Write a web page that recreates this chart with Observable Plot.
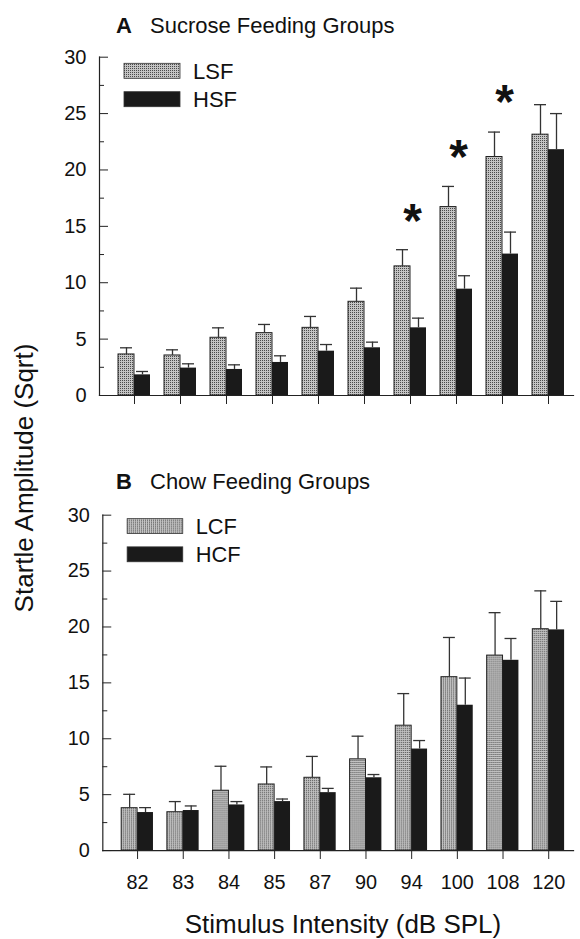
<!DOCTYPE html>
<html>
<head>
<meta charset="utf-8">
<script src="https://cdn.jsdelivr.net/npm/d3@7"></script>
<script src="https://cdn.jsdelivr.net/npm/@observablehq/plot@0.6"></script>
<style>
  body { margin: 0; background: #fff; }
  #wrap { position: relative; width: 580px; height: 939px; overflow: hidden; background: #fff;
          font-family: "Liberation Sans", Arial, Helvetica, sans-serif; color: #111; }
  .abs { position: absolute; white-space: nowrap; line-height: 1; }
  .ptitle { font-size: 22px; }
  .ptitle b { display: inline-block; width: 34px; }
  #ylab { font-size: 26px; transform: translate(-50%, -50%) rotate(-90deg); }
  #xlab { font-size: 26px; transform: translateX(-50%); }
  .panel { position: absolute; }
</style>
</head>
<body>
<div id="wrap">
  <div class="abs ptitle" style="left:116px; top:15px;"><b>A</b>Sucrose Feeding Groups</div>
  <div class="abs ptitle" style="left:116px; top:471px;"><b>B</b>Chow Feeding Groups</div>
  <div class="abs" id="ylab" style="left:24px; top:478px;">Startle Amplitude (Sqrt)</div>
  <div class="abs" id="xlab" style="left:343px; top:911px;">Stimulus Intensity (dB SPL)</div>
  <div class="panel" id="pA" style="left:0px; top:0px;"></div>
  <div class="panel" id="pB" style="left:4px; top:470px;"></div>
</div>
<script>
// ---- data ----
const categories = ["82", "83", "84", "85", "87", "90", "94", "100", "108", "120"];
const yTicks = [0, 5, 10, 15, 20, 25, 30];
const yMinorTicks = [2.5, 7.5, 12.5, 17.5, 22.5, 27.5];

// Panel A: sucrose feeding groups (mean, SEM)
const lsfMean = [3.64, 3.55, 5.12, 5.53, 6.00, 8.31, 11.45, 16.71, 21.15, 23.13];
const lsfSem  = [0.59, 0.50, 0.88, 0.77, 1.01, 1.21, 1.48, 1.83, 2.21, 2.66];
const hsfMean = [1.83, 2.43, 2.31, 2.93, 3.93, 4.23, 6.00, 9.43, 12.54, 21.80];
const hsfSem  = [0.30, 0.38, 0.41, 0.59, 0.59, 0.50, 0.86, 1.19, 1.95, 3.20];
const sigCats = ["94", "100", "108"];
const sigY    = [16.2, 21.9, 26.8];

// Panel B: chow feeding groups (mean, SEM)
const lcfMean = [3.79, 3.43, 5.35, 5.91, 6.51, 8.16, 11.17, 15.51, 17.44, 19.80];
const lcfSem  = [1.24, 0.95, 2.19, 1.57, 1.91, 2.07, 2.87, 3.55, 3.84, 3.43];
const hcfMean = [3.40, 3.58, 4.08, 4.38, 5.18, 6.51, 9.08, 13.00, 17.02, 19.74];
const hcfSem  = [0.44, 0.41, 0.30, 0.23, 0.38, 0.29, 0.76, 2.43, 1.95, 2.55];

// ---- layout ----
const W = 580, ML = 99, MR = 7;
const PAD_IN = 0.312, PAD_OUT = 0.251, ALIGN = 0.657;
const nCat = categories.length;
const step = (W - ML - MR) / (nCat - PAD_IN + 2 * PAD_OUT);
const half = step * (1 - PAD_IN) / 2;   // width of one bar in a pair
const capHalf = 6;
const font = '"Liberation Sans", Arial, Helvetica, sans-serif';
const ink = "#1a1a1a";

function addPattern(svg) {
  const defs = d3.select(svg).insert("defs", ":first-child");
  const p = defs.append("pattern").attr("id", "stip")
    .attr("width", 2).attr("height", 2).attr("patternUnits", "userSpaceOnUse");
  p.append("rect").attr("width", 2).attr("height", 2).attr("fill", "#c4c4c4");
  p.append("rect").attr("width", 1).attr("height", 1).attr("fill", "#4a4a4a");
}

function addLegend(svg, names, top) {
  const g = d3.select(svg).append("g").attr("text-anchor", "start");
  names.forEach((name, i) => {
    const y = top + i * 28.4;
    g.append("rect").attr("x", ML + 25).attr("y", y).attr("width", 56).attr("height", 15)
      .attr("fill", i === 0 ? "url(#stip)" : ink).attr("stroke", "#333").attr("stroke-width", 0.8);
    g.append("text").attr("x", ML + 94).attr("y", y + 7.5).attr("dy", "0.36em")
      .attr("text-anchor", "start")
      .attr("font-size", 22).attr("font-family", font).attr("fill", "#111").text(name);
  });
}

function panel({meanL, semL, meanH, semH, names, height, marginTop, marginBottom, showLabels, sig, legendTop}) {
  const rowsL = categories.map((c, i) => ({cat: c, v: meanL[i], e: semL[i]}));
  const rowsH = categories.map((c, i) => ({cat: c, v: meanH[i], e: semH[i]}));
  const marks = [
    Plot.barY(rowsL, {x: "cat", y: "v", fill: "url(#stip)", stroke: "#222", strokeWidth: 1, insetRight: half}),
    Plot.barY(rowsH, {x: "cat", y: "v", fill: ink, insetLeft: half}),
    Plot.ruleX(rowsL, {x: "cat", y1: "v", y2: d => d.v + d.e, dx: -half / 2, stroke: "#333", strokeWidth: 1.3}),
    Plot.ruleX(rowsH, {x: "cat", y1: "v", y2: d => d.v + d.e, dx: half / 2, stroke: "#333", strokeWidth: 1.3}),
    Plot.tickY(rowsL, {x: "cat", y: d => d.v + d.e, insetLeft: half / 2 - capHalf, insetRight: 1.5 * half - capHalf, stroke: "#333", strokeWidth: 1.3}),
    Plot.tickY(rowsH, {x: "cat", y: d => d.v + d.e, insetLeft: 1.5 * half - capHalf, insetRight: half / 2 - capHalf, stroke: "#333", strokeWidth: 1.3}),
    Plot.frame({anchor: "left", stroke: "#222", strokeWidth: 1.2}),
    Plot.frame({anchor: "bottom", stroke: "#222", strokeWidth: 1.2}),
    Plot.axisY({ticks: yTicks, tickSize: 9, dx: 9, tickFormat: () => "", label: null, stroke: "#222"}),
    Plot.axisY({ticks: yMinorTicks, tickSize: 5, dx: 5, tickFormat: () => "", label: null, stroke: "#222"}),
    Plot.axisY({ticks: yTicks, tickSize: 0, tickPadding: 13, label: null, fontSize: 20, fill: "#111"}),
    Plot.axisX({tickSize: 9, tickPadding: 16, label: null, fontSize: 20, fill: "#111", stroke: "#222",
                tickFormat: showLabels ? (d => d) : () => ""})
  ];
  if (sig) {
    const sigRows = sig.cats.map((c, i) => ({cat: c, y: sig.y[i]}));
    marks.push(Plot.text(sigRows, {x: "cat", y: "y", text: () => "*", fontSize: 48, fontWeight: "bold",
                                   dx: 2, dy: 9, fill: "#111"}));
  }
  const svg = Plot.plot({
    width: W, height, marginLeft: ML, marginRight: MR, marginTop, marginBottom,
    style: {fontFamily: font, color: "#111", background: "transparent", overflow: "visible"},
    x: {domain: categories, paddingInner: PAD_IN, paddingOuter: PAD_OUT, align: ALIGN},
    y: {domain: [0, 30]},
    marks
  });
  addPattern(svg);
  addLegend(svg, names, legendTop);
  return svg;
}

document.getElementById("pA").append(panel({
  meanL: lsfMean, semL: lsfSem, meanH: hsfMean, semH: hsfSem, names: ["LSF", "HSF"],
  height: 420, marginTop: 56.7, marginBottom: 25, showLabels: false,
  sig: {cats: sigCats, y: sigY}, legendTop: 63.3
}));
document.getElementById("pB").append(panel({
  meanL: lcfMean, semL: lcfSem, meanH: hcfMean, semH: hcfSem, names: ["LCF", "HCF"],
  height: 469, marginTop: 45, marginBottom: 86.3, showLabels: true,
  sig: null, legendTop: 49
}));
</script>
</body>
</html>
